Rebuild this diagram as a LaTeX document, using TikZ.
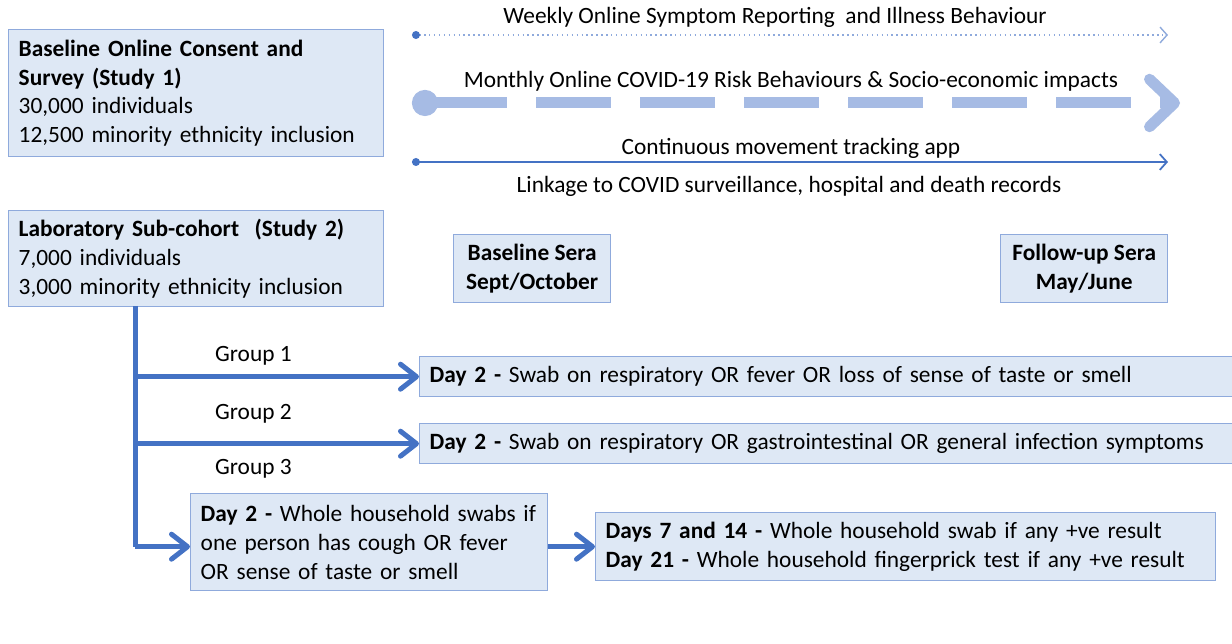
\documentclass[tikz,border=0pt]{standalone}
\usepackage{fontspec}
\setmainfont{Carlito}
\usetikzlibrary{arrows.meta}
\definecolor{boxfill}{HTML}{DEE8F5}
\definecolor{boxline}{HTML}{8FAADC}
\definecolor{arrowblue}{HTML}{4472C4}
\definecolor{bigdash}{HTML}{A6BBE4}
\tikzset{
  sbox/.style={draw=boxline, fill=boxfill, line width=0.8pt, inner xsep=0.2cm, inner ysep=0pt, anchor=north west, align=left},
  serabox/.style={sbox, align=center, font=\fontsize{13.3}{16.5}\selectfont\bfseries},
  flow/.style={draw=arrowblue, line width=0.1cm, -{Straight Barb[length=0.32cm,width=0.5cm,round]}},
  grp/.style={anchor=west}
}
\begin{document}
\begin{tikzpicture}[x=0.02cm, y=-0.02cm, every node/.style={font=\fontsize{13.3}{16.5}\selectfont}]
    \useasboundingbox[fill=white] (0,0) rectangle (1232,644);

    % study boxes
    \node[sbox, text width=7.1cm, minimum height=2.54cm] (study1) at (8,29)
      {\textbf{Baseline Online Consent and}\\ \textbf{Survey (Study 1)}\\ 30,000 individuals\\ 12,500 minority ethnicity inclusion};
    \node[sbox, text width=7.1cm, minimum height=1.92cm] (study2) at (8,210)
      {\textbf{Laboratory Sub-cohort~ (Study 2)}\\ 7,000 individuals\\ 3,000 minority ethnicity inclusion};

    % sera
    \node[serabox, minimum width=3.14cm, minimum height=1.36cm] (basesera) at (453,234) {Baseline Sera\\ Sept/October};
    \node[serabox, minimum width=3.34cm, minimum height=1.36cm] (followsera) at (1000,234) {Follow-up Sera\\ May/June};

    % timelines
    \coordinate (wkS) at (412,35);   \coordinate (wkE) at (1168,35);
    \coordinate (moS) at (412,103);  \coordinate (moE) at (1180,103);
    \coordinate (mvS) at (412,162);  \coordinate (mvE) at (1168,162);
    \node (weekly) at (775,17) {Weekly Online Symptom Reporting~ and Illness Behaviour};
    \node (monthly) at (791,81) {Monthly Online COVID-19 Risk Behaviours \& Socio-economic impacts};
    \node (movement) at (791,148) {Continuous movement tracking app};
    \node (linkage) at (789,186) {Linkage to COVID surveillance, hospital and death records};
    \draw[draw=boxline, line width=0.8pt, dotted, {Circle[length=4.5pt, color=arrowblue]}-{Straight Barb[length=4pt,width=9pt]}] (wkS) -- (wkE);
    \draw[draw=bigdash, line width=0.22cm, dash pattern=on 1.5cm off 0.58cm,
      {Circle[length=0.52cm]}-{Straight Barb[length=0.5cm,width=0.95cm,round]}] (moS) -- (moE);
    \draw[draw=arrowblue, line width=1pt, {Circle[length=4.5pt]}-{Straight Barb[length=4pt,width=9pt]}] (mvS) -- (mvE);

    % groups
    \node[sbox, text width=16.2cm, minimum height=0.8cm] (g1) at (419,356)
      {\textbf{Day 2 -} Swab on respiratory OR fever OR loss of sense of taste or smell};
    \node[sbox, text width=16.2cm, minimum height=0.8cm] (g2) at (419,423)
      {\textbf{Day 2 -} Swab on respiratory OR gastrointestinal OR general infection symptoms};
    \node[sbox, text width=6.74cm, minimum height=1.94cm] (g3) at (190,493)
      {\textbf{Day 2 -} Whole household swabs if\\ one person has cough OR fever\\ OR sense of taste or smell};
    \node[sbox, text width=12.0cm, minimum height=1.36cm] (g4) at (595,512)
      {\textbf{Days 7 and 14 -} Whole household swab if any +ve result\\ \textbf{Day 21 -} Whole household fingerprick test if any +ve result};

    \coordinate (trunk) at (135,306);
    \draw[draw=arrowblue, line width=0.1cm] (trunk) -- (trunk |- g4.west);
    \draw[flow] (trunk |- g1.west) -- (g1.west);
    \draw[flow] (trunk |- g2.west) -- (g2.west);
    \draw[flow] (trunk |- g4.west) -- (g3.west |- g4.west);
    \draw[flow] (g3.east |- g4.west) -- (g4.west);
    \node[grp] (grp1) at (209,356) {Group 1};
    \node[grp] (grp2) at (209,414) {Group 2};
    \node[grp] (grp3) at (209,469) {Group 3};
  \end{tikzpicture}
\end{document}
